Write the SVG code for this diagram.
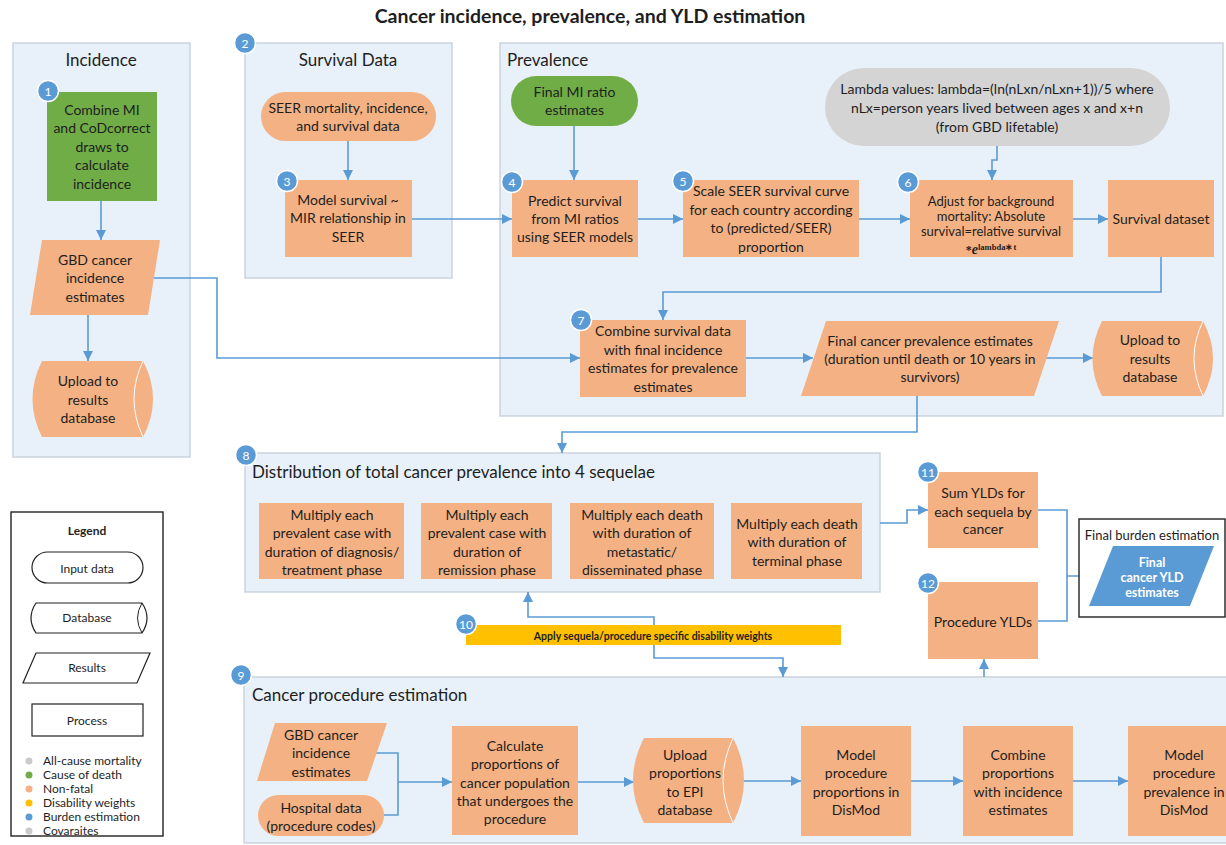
<svg xmlns="http://www.w3.org/2000/svg" width="1226" height="845" viewBox="0 0 1226 845">
<defs>
<style>
text{font-family:Lato,"Liberation Sans",sans-serif;fill:#1e1e1e}
.t{font-size:14px;text-anchor:middle}
.ts{font-size:13px;text-anchor:middle}
.pt{font-size:17px}
.ptc{font-size:17px;text-anchor:middle}
.panel{fill:#E8F0F9;stroke:#CAD3DE;stroke-width:1.5}
.or{fill:#F4B183}
.gr{fill:#70AD47}
.gy{fill:#D4D4D4}
.bl{fill:#5B9BD5}
.ye{fill:#FFC000}
.inner{fill:none;stroke:#ffffff;stroke-width:1}
.badge circle{fill:#5B9BD5;stroke:#ffffff;stroke-width:1.5}
.badge text{font-size:12px;text-anchor:middle;fill:#ffffff}
.lg{fill:#ffffff;stroke:#222;stroke-width:1.2}
.lt{font-size:12px;text-anchor:middle}
.ld{font-size:12px}
#connectors path{fill:none;stroke:#5B9BD5;stroke-width:1.6}
</style>
<marker id="ah" markerUnits="userSpaceOnUse" markerWidth="10" markerHeight="10" refX="10" refY="5" orient="auto">
<path d="M0,0 L10,5 L0,10 z" fill="#5B9BD5"/>
</marker>
</defs>
<rect width="1226" height="845" fill="#ffffff"/>
<text x="590" y="23" style="font-size:19.5px;font-weight:bold;text-anchor:middle">Cancer incidence, prevalence, and YLD estimation</text>

<!-- Panels -->
<g id="panel-incidence">
<rect class="panel" x="13" y="43" width="177" height="414"/>
<text class="ptc" x="101" y="66">Incidence</text>
</g>
<g id="panel-survival">
<rect class="panel" x="245" y="43" width="207" height="235"/>
<text class="ptc" x="348" y="66">Survival Data</text>
</g>
<g id="panel-prevalence">
<rect class="panel" x="500" y="43" width="723" height="373"/>
<text class="pt" x="507" y="66">Prevalence</text>
</g>
<g id="panel-distribution">
<rect class="panel" x="245" y="453" width="635" height="139"/>
<text class="pt" x="252" y="478">Distribution of total cancer prevalence into 4 sequelae</text>
</g>
<g id="panel-procedure">
<rect class="panel" x="244" y="677" width="990" height="166"/>
<text class="pt" x="252" y="701">Cancer procedure estimation</text>
</g>

<!-- Connectors -->
<g id="connectors">
<path d="M101,201 V240" marker-end="url(#ah)"/>
<path d="M88,315 V361" marker-end="url(#ah)"/>
<path d="M154,278 H217 V358 H580" marker-end="url(#ah)"/>
<path d="M348,141 V180" marker-end="url(#ah)"/>
<path d="M412,219 H512" marker-end="url(#ah)"/>
<path d="M574,126 V180" marker-end="url(#ah)"/>
<path d="M638,219 H683" marker-end="url(#ah)"/>
<path d="M859,219 H910" marker-end="url(#ah)"/>
<path d="M997,146 V160 H992 V180" marker-end="url(#ah)"/>
<path d="M1073,219 H1108" marker-end="url(#ah)"/>
<path d="M1161,257 V292 H663 V320" marker-end="url(#ah)"/>
<path d="M746,358 H813" marker-end="url(#ah)"/>
<path d="M1046,358 H1093" marker-end="url(#ah)"/>
<path d="M917,396 V432 H562 V453" marker-end="url(#ah)"/>
<path d="M880,523 H907 V510 H928" marker-end="url(#ah)"/>
<path d="M1038,510 H1067 V621 H1038"/>
<path d="M1067,576 H1101" marker-end="url(#ah)"/>
<path d="M654,625 V617 H528 V592" marker-end="url(#ah)"/>
<path d="M654,645 V658 H783 V677" marker-end="url(#ah)"/>
<path d="M984,677 V659" marker-end="url(#ah)"/>
<path d="M376,753 H398 V815 H384"/>
<path d="M398,782 H452" marker-end="url(#ah)"/>
<path d="M578,782 H634" marker-end="url(#ah)"/>
<path d="M744,781 H801" marker-end="url(#ah)"/>
<path d="M911,781 H963" marker-end="url(#ah)"/>
<path d="M1073,781 H1128" marker-end="url(#ah)"/>
</g>

<!-- Incidence nodes -->
<g id="n1">
<rect class="gr" x="47" y="92" width="110" height="109"/>
<text class="t" x="102" y="115">Combine MI</text>
<text class="t" x="102" y="133">and CoDcorrect</text>
<text class="t" x="102" y="152">draws to</text>
<text class="t" x="102" y="170">calculate</text>
<text class="t" x="102" y="189">incidence</text>
</g>
<g id="gbd-incidence">
<polygon class="or" points="42,240 160,240 148,315 30,315"/>
<text class="t" x="95" y="265">GBD cancer</text>
<text class="t" x="95" y="283">incidence</text>
<text class="t" x="95" y="302">estimates</text>
</g>
<g id="db-incidence">
<path class="or" d="M42,361 H143 Q163,399 143,437 H42 Q23,399 42,361 Z"/>
<path class="inner" d="M143,361 Q125,399 143,437"/>
<text class="t" x="88" y="386">Upload to</text>
<text class="t" x="88" y="405">results</text>
<text class="t" x="88" y="423">database</text>
</g>

<!-- Survival data nodes -->
<g id="seer">
<rect class="or" x="261" y="92" width="175" height="49" rx="24.5"/>
<text class="t" x="348" y="113">SEER mortality, incidence,</text>
<text class="t" x="348" y="131">and survival data</text>
</g>
<g id="n3">
<rect class="or" x="285" y="180" width="127" height="77"/>
<text class="t" x="348" y="205">Model survival ~</text>
<text class="t" x="348" y="223">MIR relationship in</text>
<text class="t" x="348" y="242">SEER</text>
</g>

<!-- Prevalence nodes -->
<g id="final-mi">
<rect class="gr" x="511" y="76" width="127" height="50" rx="25"/>
<text class="t" x="574.5" y="97">Final MI ratio</text>
<text class="t" x="574.5" y="115">estimates</text>
</g>
<g id="lambda">
<rect class="gy" x="825" y="68" width="345" height="78" rx="39"/>
<text class="t" x="997" y="94">Lambda values: lambda=(ln(nLxn/nLxn+1))/5 where</text>
<text class="t" x="997" y="113">nLx=person years lived between ages x and x+n</text>
<text class="t" x="997" y="132">(from GBD lifetable)</text>
</g>
<g id="n4">
<rect class="or" x="512" y="180" width="126" height="77"/>
<text class="t" x="575" y="206">Predict survival</text>
<text class="t" x="575" y="224">from MI ratios</text>
<text class="t" x="575" y="242">using SEER models</text>
</g>
<g id="n5">
<rect class="or" x="683" y="180" width="176" height="77"/>
<text class="t" x="771" y="196">Scale SEER survival curve</text>
<text class="t" x="771" y="215">for each country according</text>
<text class="t" x="771" y="233">to (predicted/SEER)</text>
<text class="t" x="771" y="252">proportion</text>
</g>
<g id="n6">
<rect class="or" x="910" y="180" width="163" height="77"/>
<text class="ts" x="991" y="206">Adjust for background</text>
<text class="ts" x="991" y="221">mortality: Absolute</text>
<text class="ts" x="991" y="236">survival=relative survival</text>
<text x="991" y="254" style="font-family:'Liberation Serif',serif;text-anchor:middle;font-weight:bold;font-size:12px">*<tspan font-style="italic" font-size="14px">e</tspan><tspan font-size="8.5px" dy="-4">lambda∗t</tspan></text>
</g>
<g id="survival-dataset">
<rect class="or" x="1108" y="180" width="106" height="77"/>
<text class="t" x="1161" y="224">Survival dataset</text>
</g>
<g id="n7">
<rect class="or" x="580" y="320" width="166" height="77"/>
<text class="t" x="663" y="336">Combine survival data</text>
<text class="t" x="663" y="355">with final incidence</text>
<text class="t" x="663" y="373">estimates for prevalence</text>
<text class="t" x="663" y="392">estimates</text>
</g>
<g id="final-prevalence">
<polygon class="or" points="826,321 1059,321 1034,396 801,396"/>
<text class="t" x="930" y="346">Final cancer prevalence estimates</text>
<text class="t" x="930" y="364">(duration until death or 10 years in</text>
<text class="t" x="930" y="382">survivors)</text>
</g>
<g id="db-prevalence">
<path class="or" d="M1102,321 H1203 Q1223,358.5 1203,396 H1102 Q1083,358.5 1102,321 Z"/>
<path class="inner" d="M1203,321 Q1185,358.5 1203,396"/>
<text class="t" x="1150" y="345">Upload to</text>
<text class="t" x="1150" y="364">results</text>
<text class="t" x="1150" y="382">database</text>
</g>

<!-- Distribution nodes -->
<g id="seq1">
<rect class="or" x="259" y="503" width="145" height="76"/>
<text class="t" x="332" y="520">Multiply each</text>
<text class="t" x="332" y="538">prevalent case with</text>
<text class="t" x="332" y="557">duration of diagnosis/</text>
<text class="t" x="332" y="575">treatment phase</text>
</g>
<g id="seq2">
<rect class="or" x="421" y="503" width="131" height="76"/>
<text class="t" x="487" y="520">Multiply each</text>
<text class="t" x="487" y="538">prevalent case with</text>
<text class="t" x="487" y="557">duration of</text>
<text class="t" x="487" y="575">remission phase</text>
</g>
<g id="seq3">
<rect class="or" x="570" y="503" width="144" height="76"/>
<text class="t" x="642" y="520">Multiply each death</text>
<text class="t" x="642" y="538">with duration of</text>
<text class="t" x="642" y="557">metastatic/</text>
<text class="t" x="642" y="575">disseminated phase</text>
</g>
<g id="seq4">
<rect class="or" x="731" y="503" width="131" height="76"/>
<text class="t" x="797" y="529">Multiply each death</text>
<text class="t" x="797" y="547">with duration of</text>
<text class="t" x="797" y="566">terminal phase</text>
</g>

<!-- YLD nodes -->
<g id="n11">
<rect class="or" x="928" y="472" width="110" height="76"/>
<text class="t" x="983" y="498">Sum YLDs for</text>
<text class="t" x="983" y="517">each sequela by</text>
<text class="t" x="983" y="534">cancer</text>
</g>
<g id="n12">
<rect class="or" x="928" y="582" width="110" height="77"/>
<text class="t" x="983" y="627">Procedure YLDs</text>
</g>
<g id="final-burden">
<rect x="1079" y="519" width="146" height="98" fill="#ffffff" stroke="#222" stroke-width="1.4"/>
<text x="1152" y="540" style="font-size:13px;text-anchor:middle">Final burden estimation</text>
<polygon class="bl" points="1113,546 1214,546 1190,606 1089,606"/>
<text x="1152" y="567" style="font-size:12.5px;text-anchor:middle;fill:#ffffff;font-weight:bold">Final</text>
<text x="1152" y="582" style="font-size:12.5px;text-anchor:middle;fill:#ffffff;font-weight:bold">cancer YLD</text>
<text x="1152" y="597" style="font-size:12.5px;text-anchor:middle;fill:#ffffff;font-weight:bold">estimates</text>
</g>
<g id="n10">
<rect class="ye" x="466" y="625" width="375" height="20"/>
<text x="653" y="640" style="font-size:10.5px;font-weight:bold;text-anchor:middle">Apply sequela/procedure specific disability weights</text>
</g>

<!-- Procedure nodes -->
<g id="gbd-procedure">
<polygon class="or" points="275,723 387,723 367,781 257,781"/>
<text class="t" x="321" y="740">GBD cancer</text>
<text class="t" x="321" y="758">incidence</text>
<text class="t" x="321" y="777">estimates</text>
</g>
<g id="hospital">
<rect class="or" x="258" y="795" width="126" height="41" rx="20.5"/>
<text class="t" x="321" y="813">Hospital data</text>
<text class="t" x="321" y="831">(procedure codes)</text>
</g>
<g id="calculate">
<rect class="or" x="452" y="726" width="126" height="109"/>
<text class="t" x="515" y="751">Calculate</text>
<text class="t" x="515" y="769">proportions of</text>
<text class="t" x="515" y="788">cancer population</text>
<text class="t" x="515" y="806">that undergoes the</text>
<text class="t" x="515" y="824">procedure</text>
</g>
<g id="db-epi">
<path class="or" d="M644,738 H733 Q755,780.5 733,823 H644 Q622,780.5 644,738 Z"/>
<path class="inner" d="M733,738 Q713,780.5 733,823"/>
<text class="t" x="685" y="760">Upload</text>
<text class="t" x="685" y="778">proportions</text>
<text class="t" x="685" y="797">to EPI</text>
<text class="t" x="685" y="815">database</text>
</g>
<g id="model-proportions">
<rect class="or" x="801" y="726" width="110" height="110"/>
<text class="t" x="856" y="760">Model</text>
<text class="t" x="856" y="778">procedure</text>
<text class="t" x="856" y="797">proportions in</text>
<text class="t" x="856" y="815">DisMod</text>
</g>
<g id="combine-proportions">
<rect class="or" x="963" y="726" width="110" height="110"/>
<text class="t" x="1018" y="760">Combine</text>
<text class="t" x="1018" y="778">proportions</text>
<text class="t" x="1018" y="797">with incidence</text>
<text class="t" x="1018" y="815">estimates</text>
</g>
<g id="model-prevalence">
<rect class="or" x="1128" y="726" width="110" height="110"/>
<text class="t" x="1184" y="760">Model</text>
<text class="t" x="1184" y="778">procedure</text>
<text class="t" x="1184" y="797">prevalence in</text>
<text class="t" x="1184" y="815">DisMod</text>
</g>

<!-- Badges -->
<g id="badges">
<g class="badge"><circle cx="48" cy="91" r="10.5"/><text x="48" y="95.5">1</text></g>
<g class="badge"><circle cx="245" cy="43" r="10.5"/><text x="245" y="47.5">2</text></g>
<g class="badge"><circle cx="287" cy="181" r="10.5"/><text x="287" y="185.5">3</text></g>
<g class="badge"><circle cx="512" cy="182" r="10.5"/><text x="512" y="186.5">4</text></g>
<g class="badge"><circle cx="683" cy="181" r="10.5"/><text x="683" y="185.5">5</text></g>
<g class="badge"><circle cx="908" cy="182" r="10.5"/><text x="908" y="186.5">6</text></g>
<g class="badge"><circle cx="581" cy="320" r="10.5"/><text x="581" y="324.5">7</text></g>
<g class="badge"><circle cx="246" cy="455" r="10.5"/><text x="246" y="459.5">8</text></g>
<g class="badge"><circle cx="241" cy="675" r="10.5"/><text x="241" y="679.5">9</text></g>
<g class="badge"><circle cx="466" cy="624" r="10.5"/><text x="466" y="628.5">10</text></g>
<g class="badge"><circle cx="928" cy="472" r="10.5"/><text x="928" y="476.5">11</text></g>
<g class="badge"><circle cx="928" cy="583" r="10.5"/><text x="928" y="587.5">12</text></g>
</g>

<!-- Legend -->
<g id="legend">
<rect x="11" y="512" width="152" height="324" fill="#ffffff" stroke="#222" stroke-width="1.4"/>
<text x="87" y="535" style="font-size:12px;font-weight:bold;text-anchor:middle">Legend</text>
<rect class="lg" x="32" y="552" width="111" height="31" rx="15.5"/>
<text class="lt" x="87" y="573">Input data</text>
<path class="lg" d="M36,603 H142 Q152,618 142,633 H36 Q26,618 36,603 Z"/>
<path fill="none" stroke="#222" stroke-width="1" d="M142,603 Q133,618 142,633"/>
<text class="lt" x="87" y="622">Database</text>
<polygon class="lg" points="36,653 150,653 137,683 23,683"/>
<text class="lt" x="87" y="672">Results</text>
<rect class="lg" x="32" y="704" width="111" height="32"/>
<text class="lt" x="87" y="725">Process</text>
<circle cx="29" cy="761" r="3.5" fill="#CACACA"/>
<circle cx="29" cy="775" r="3.5" fill="#70AD47"/>
<circle cx="29" cy="789" r="3.5" fill="#F4B183"/>
<circle cx="29" cy="803" r="3.5" fill="#FFC000"/>
<circle cx="29" cy="817" r="3.5" fill="#5B9BD5"/>
<circle cx="29" cy="831" r="3.5" fill="#CACACA"/>
<text class="ld" x="43" y="765">All-cause mortality</text>
<text class="ld" x="43" y="779">Cause of death</text>
<text class="ld" x="43" y="793">Non-fatal</text>
<text class="ld" x="43" y="807">Disability weights</text>
<text class="ld" x="43" y="821">Burden estimation</text>
<text class="ld" x="43" y="835">Covaraites</text>
</g>
</svg>
